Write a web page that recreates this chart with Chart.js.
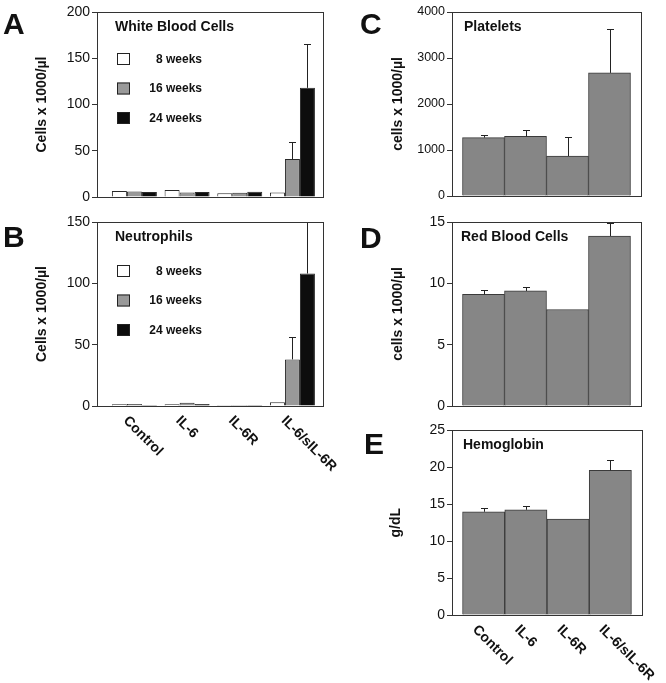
<!DOCTYPE html>
<html>
<head>
<meta charset="utf-8">
<script src="https://cdn.jsdelivr.net/npm/chart.js@4.4.1/dist/chart.umd.min.js"></script>
<style>
  body { margin: 0; background: #fff; width: 666px; height: 683px; position: relative; overflow: hidden; }
  canvas { position: absolute; }
  .tag { position: absolute; font: bold 30px "Liberation Sans", Arial, sans-serif; line-height: 30px; color: #111; }
</style>
</head>
<body>
<canvas id="wbc" width="330" height="210" style="left:0;top:0"></canvas>
<canvas id="neut" width="350" height="273" style="left:0;top:210px"></canvas>
<canvas id="plt" width="326" height="210" style="left:340px;top:0"></canvas>
<canvas id="rbc" width="326" height="210" style="left:340px;top:210px"></canvas>
<canvas id="hgb" width="326" height="263" style="left:340px;top:420px"></canvas>
<div class="tag" style="left:3px;top:9px">A</div>
<div class="tag" style="left:3px;top:222px">B</div>
<div class="tag" style="left:360px;top:9px">C</div>
<div class="tag" style="left:360px;top:223px">D</div>
<div class="tag" style="left:364px;top:429px">E</div>
<script>
const FONT = '"Liberation Sans", Arial, sans-serif';
Chart.defaults.font.family = FONT;
Chart.defaults.color = '#111';

const groups = ['Control', 'IL-6', 'IL-6R', 'IL-6/sIL-6R'];
const weeks = ['8 weeks', '16 weeks', '24 weeks'];

// white blood cells (x1000/ul)
const wbc8 = [6.5, 7.5, 4, 5];
const wbc16 = [6, 5, 4.7, 41];
const wbc24 = [5.4, 5.4, 5.8, 118];
const wbcSd16 = [null, null, null, 18];
const wbcSd24 = [null, null, null, 47];

// neutrophils (x1000/ul)
const neut8 = [1.4, 1.4, 0.8, 3];
const neut16 = [1.6, 2.7, 0.8, 38];
const neut24 = [0.8, 1.6, 0.8, 108];
const neutSd16 = [null, null, null, 18];
const neutSd24 = [null, null, null, 42];

// platelets, red cells, hemoglobin
const plt = [1270, 1295, 868, 2676];
const pltSd = [52, 150, 420, 960];
const rbc = [9.1, 9.38, 7.87, 13.86];
const rbcSd = [0.38, 0.36, null, 1.06];
const hgb = [13.98, 14.25, 13.0, 19.6];
const hgbSd = [0.54, 0.5, null, 1.44];

const toXY = vals => vals.map((v, i) => ({ x: i, y: v }));

// error bars, frame, in-plot title/legend and slanted group labels
const panelDecor = {
  id: 'panelDecor',
  afterDatasetsDraw(chart, args, opts) {
    const { ctx, chartArea: a, scales: { x, y } } = chart;
    ctx.save();
    ctx.strokeStyle = '#222';
    ctx.lineWidth = 1;
    chart.data.datasets.forEach((ds, di) => {
      if (!ds.sd) return;
      chart.getDatasetMeta(di).data.forEach((bar, i) => {
        const sd = ds.sd[i];
        if (sd == null) return;
        const cx = Math.round(bar.x) + 0.5;
        const top = Math.round(y.getPixelForValue(ds.data[i].y + sd)) + 0.5;
        ctx.beginPath();
        ctx.moveTo(cx, bar.y);
        ctx.lineTo(cx, top);
        ctx.moveTo(cx - 3.5, top);
        ctx.lineTo(cx + 3.5, top);
        ctx.stroke();
      });
    });

    ctx.strokeStyle = '#333';
    ctx.strokeRect(Math.round(a.left) + 0.5, Math.round(a.top) + 0.5,
      Math.round(a.right - a.left), Math.round(a.bottom - a.top));

    ctx.fillStyle = '#111';
    ctx.textBaseline = 'middle';
    ctx.textAlign = 'left';
    ctx.font = 'bold 14px ' + FONT;
    ctx.fillText(opts.title, a.left + opts.titleDx, a.top + 15);

    if (opts.legend) {
      ctx.font = 'bold 12px ' + FONT;
      chart.data.datasets.forEach((ds, i) => {
        const sy = a.top + opts.legendTop + i * 29.5;
        ctx.fillStyle = ds.backgroundColor;
        ctx.fillRect(a.left + 20, sy, 13, 12);
        ctx.strokeStyle = '#222';
        ctx.strokeRect(a.left + 20.5, sy + 0.5, 12, 11);
        ctx.fillStyle = '#111';
        ctx.textAlign = 'right';
        ctx.fillText(ds.label, a.left + 105, sy + 6.5);
      });
    }

    if (opts.xLabels) {
      ctx.font = 'bold 14px ' + FONT;
      ctx.textAlign = 'left';
      ctx.fillStyle = '#111';
      opts.xLabels.forEach((t, i) => {
        ctx.save();
        ctx.translate(x.getPixelForValue(i) - 9, a.bottom + 12.5);
        ctx.rotate(Math.PI / 4);
        ctx.fillText(t, 0, 0);
        ctx.restore();
      });
    }
    ctx.restore();
  }
};

function makePanel(id, cfg) {
  return new Chart(document.getElementById(id), {
    type: 'bar',
    data: { datasets: cfg.datasets },
    options: {
      responsive: false,
      animation: false,
      devicePixelRatio: 1,
      layout: { padding: cfg.padding },
      datasets: { bar: { barPercentage: 1, categoryPercentage: cfg.catPct, borderWidth: 1, borderColor: '#2a2a2a' } },
      scales: {
        x: {
          type: 'linear',
          offset: false,
          min: cfg.xMin,
          max: cfg.xMax,
          grid: { display: false },
          border: { display: false },
          ticks: { display: false },
          afterBuildTicks: s => { s.ticks = groups.map((g, i) => ({ value: i })); },
          afterFit: s => { s.height = 0; }
        },
        y: {
          min: 0,
          max: cfg.yMax,
          ticks: {
            stepSize: cfg.step,
            font: { size: cfg.tickSize || 14 },
            color: '#111',
            padding: 2,
            callback: v => String(v)
          },
          grid: { drawOnChartArea: false, drawTicks: true, tickLength: 5, color: '#333' },
          border: { color: '#333' },
          title: {
            display: true,
            text: cfg.yTitle,
            font: { size: 14, weight: 'bold' },
            color: '#111',
            padding: { top: cfg.titlePad, bottom: 0 }
          },
          afterFit: s => { s.width = cfg.yWidth; }
        }
      },
      plugins: {
        legend: { display: false },
        tooltip: { enabled: false },
        panelDecor: {
          title: cfg.title,
          titleDx: cfg.titleDx,
          legend: cfg.legend || false,
          legendTop: cfg.legendTop,
          xLabels: cfg.xLabels || null
        }
      }
    },
    plugins: [panelDecor]
  });
}

const weekColors = ['#ffffff', '#999999', '#0d0d0d'];
function weekSets(v8, v16, v24, sd16, sd24) {
  return [
    { label: weeks[0], data: toXY(v8), backgroundColor: weekColors[0] },
    { label: weeks[1], data: toXY(v16), backgroundColor: weekColors[1], sd: sd16 },
    { label: weeks[2], data: toXY(v24), backgroundColor: weekColors[2], sd: sd24 }
  ];
}
function singleSet(vals, sd) {
  return [{ label: 'mean', data: toXY(vals), backgroundColor: '#868686', borderColor: '#3a3a3a', sd: sd }];
}

makePanel('wbc', {
  datasets: weekSets(wbc8, wbc16, wbc24, wbcSd16, wbcSd24),
  padding: { top: 12, right: 7, bottom: 13, left: 0 },
  xMin: -0.71, xMax: 3.58, catPct: 0.854,
  yMax: 200, step: 50, yWidth: 97, titlePad: 34,
  yTitle: 'Cells x 1000/µl',
  title: 'White Blood Cells', titleDx: 18,
  legend: true, legendTop: 41
});

makePanel('neut', {
  datasets: weekSets(neut8, neut16, neut24, neutSd16, neutSd24),
  padding: { top: 12, right: 27, bottom: 77, left: 0 },
  xMin: -0.71, xMax: 3.58, catPct: 0.854,
  yMax: 150, step: 50, yWidth: 97, titlePad: 34,
  yTitle: 'Cells x 1000/µl',
  title: 'Neutrophils', titleDx: 18,
  legend: true, legendTop: 43,
  xLabels: groups
});

makePanel('plt', {
  datasets: singleSet(plt, pltSd),
  padding: { top: 12, right: 25, bottom: 14, left: 0 },
  xMin: -0.75, xMax: 3.75, catPct: 1,
  yMax: 4000, step: 1000, tickSize: 12.5, yWidth: 112, titlePad: 50,
  yTitle: 'cells x 1000/µl',
  title: 'Platelets', titleDx: 12
});

makePanel('rbc', {
  datasets: singleSet(rbc, rbcSd),
  padding: { top: 12, right: 25, bottom: 14, left: 0 },
  xMin: -0.75, xMax: 3.75, catPct: 1,
  yMax: 15, step: 5, yWidth: 112, titlePad: 50,
  yTitle: 'cells x 1000/µl',
  title: 'Red Blood Cells', titleDx: 9
});

makePanel('hgb', {
  datasets: singleSet(hgb, hgbSd),
  padding: { top: 10, right: 24, bottom: 68, left: 0 },
  xMin: -0.75, xMax: 3.75, catPct: 1,
  yMax: 25, step: 5, yWidth: 112, titlePad: 48,
  yTitle: 'g/dL',
  title: 'Hemoglobin', titleDx: 11,
  xLabels: groups
});
</script>
</body>
</html>
